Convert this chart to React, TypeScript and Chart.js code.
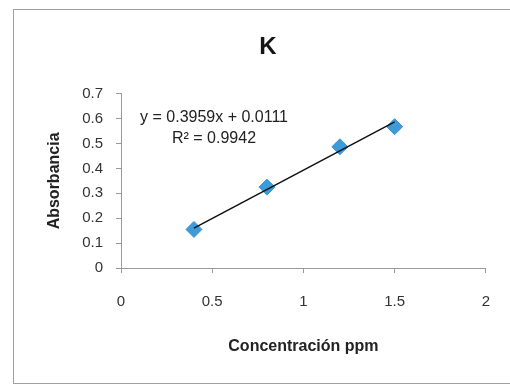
import React, { useEffect, useRef } from "react";
import { Chart, registerables } from "chart.js";

Chart.register(...registerables);

// ---- data ----
const concentration = [0.4, 0.8, 1.2, 1.5];
const absorbance = [0.155, 0.325, 0.487, 0.568];
const trendX = [0.4, 1.5];
const trendY = [0.16, 0.587];
const xTickLabels = ["0", "0.5", "1", "1.5", "2"];
const yTickLabels = ["0", "0.1", "0.2", "0.3", "0.4", "0.5", "0.6", "0.7"];
const equationLines = ["y = 0.3959x + 0.0111", "R² = 0.9942"];
const chartTitle = "K";
const xAxisTitle = "Concentración ppm";
const yAxisTitle = "Absorbancia";

const FONT = "'Liberation Sans', Arial, Helvetica, sans-serif";
const EQ_AT = { x: 0.51, y: 0.605 };

const equationPlugin = {
  id: "equationLabel",
  afterDatasetsDraw(chart: any) {
    const { ctx, scales } = chart;
    const px = scales.x.getPixelForValue(EQ_AT.x);
    const py = scales.y.getPixelForValue(EQ_AT.y);
    ctx.save();
    ctx.font = `16px ${FONT}`;
    ctx.fillStyle = "#222";
    ctx.textAlign = "center";
    ctx.textBaseline = "middle";
    equationLines.forEach((line, i) => {
      ctx.fillText(line, px, py + i * 21);
    });
    ctx.restore();
  },
};

export default function App() {
  const canvasRef = useRef<HTMLCanvasElement | null>(null);

  useEffect(() => {
    if (!canvasRef.current) return;
    const chart = new Chart(canvasRef.current, {
      type: "scatter",
      data: {
        datasets: [
          {
            type: "line",
            label: "trend",
            data: trendX.map((x, i) => ({ x, y: trendY[i] })),
            borderColor: "#111",
            borderWidth: 1.5,
            pointRadius: 0,
            fill: false,
            order: 0,
          } as any,
          {
            label: "K",
            data: concentration.map((x, i) => ({ x, y: absorbance[i] })),
            pointStyle: "rectRot",
            pointRadius: 8,
            backgroundColor: "#3d9bd9",
            borderColor: "#3a93cf",
            borderWidth: 1,
            order: 1,
          },
        ],
      },
      options: {
        animation: false,
        responsive: false,
        maintainAspectRatio: false,
        devicePixelRatio: 1,
        layout: { padding: { left: 48, right: 22, top: 0, bottom: 0 } },
        plugins: {
          legend: { display: false },
          tooltip: { enabled: false },
          title: {
            display: true,
            text: chartTitle,
            color: "#151515",
            font: { family: FONT, size: 24, weight: "bold", lineHeight: 1.2 },
            padding: { top: 33, bottom: 32 },
          },
        },
        scales: {
          x: {
            type: "linear",
            min: 0,
            max: 2,
            ticks: {
              stepSize: 0.5,
              color: "#333",
              font: { family: FONT, size: 15 },
              padding: 20,
              callback: (_v: any, i: number) => xTickLabels[i],
            },
            grid: {
              display: true,
              drawOnChartArea: false,
              drawTicks: true,
              tickLength: 5,
              color: "#9a9a9a",
            },
            border: { display: true, color: "#9a9a9a", width: 1 },
            title: {
              display: true,
              text: xAxisTitle,
              color: "#222",
              font: { family: FONT, size: 16, weight: "bold", lineHeight: 1.2 },
              padding: { top: 0, bottom: 29 },
            },
            afterFit: (s: any) => {
              s.height = 117;
            },
          },
          y: {
            type: "linear",
            min: 0,
            max: 0.7,
            ticks: {
              stepSize: 0.1,
              color: "#333",
              font: { family: FONT, size: 15 },
              padding: 13,
              callback: (_v: any, i: number) => yTickLabels[i],
            },
            grid: {
              display: true,
              drawOnChartArea: false,
              drawTicks: true,
              tickLength: 5,
              color: "#9a9a9a",
            },
            border: { display: true, color: "#9a9a9a", width: 1 },
            title: {
              display: true,
              text: yAxisTitle,
              color: "#222",
              font: { family: FONT, size: 16, weight: "bold", lineHeight: 1 },
              padding: { top: -1, bottom: 0 },
            },
            afterFit: (s: any) => {
              s.width = 73;
            },
          },
        },
      } as any,
      plugins: [equationPlugin],
    });
    return () => chart.destroy();
  }, []);

  return (
    <div
      style={{
        position: "absolute",
        left: 0,
        top: 0,
        width: 510,
        height: 385,
        overflow: "hidden",
        background: "#fff",
      }}
    >
      <div
        style={{
          position: "absolute",
          left: 13,
          top: 9,
          width: 510,
          height: 373,
          borderTop: "1px solid #a0a0a0",
          borderLeft: "1px solid #a0a0a0",
          borderBottom: "1px solid #a0a0a0",
        }}
      />
      <canvas
        ref={canvasRef}
        width={510}
        height={385}
        style={{ position: "absolute", left: 0, top: 0, width: 510, height: 385 }}
      />
    </div>
  );
}
